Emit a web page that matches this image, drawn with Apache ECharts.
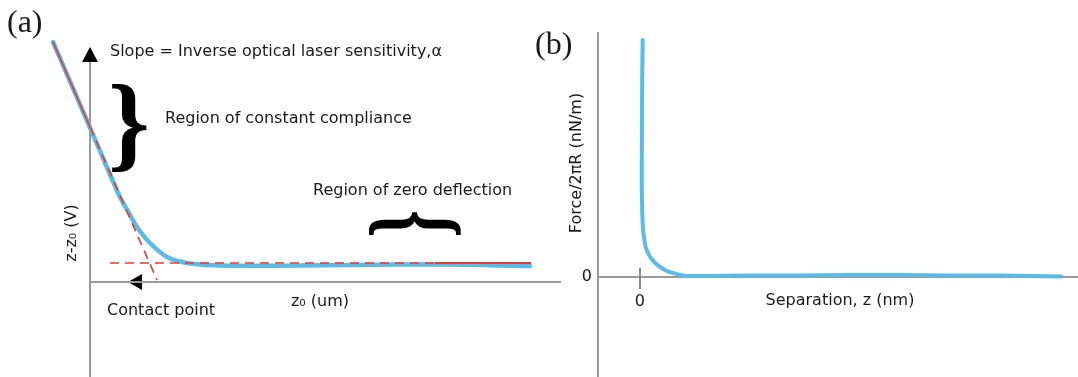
<!DOCTYPE html>
<html>
<head>
<meta charset="utf-8">
<script src="https://cdn.jsdelivr.net/npm/echarts@6/dist/echarts.min.js"></script>
<style>
  html, body { margin: 0; padding: 0; background: #ffffff; }
  #chart { width: 1078px; height: 377px; }
</style>
</head>
<body>
<div id="chart"></div>
<script>
// ---- (a) photodiode deflection against piezo displacement z0 ----
// [z0, z - z0] in arbitrary schematic units
const deflectionCurve = [
  [-0.37, 2.40], [-0.18, 1.96], [0.01, 1.52], [0.16, 1.17], [0.30, 0.85],
  [0.39, 0.69], [0.47, 0.55], [0.60, 0.39], [0.77, 0.25], [0.97, 0.19],
  [1.23, 0.167], [1.60, 0.162], [2.10, 0.165], [2.60, 0.17], [3.10, 0.175],
  [3.60, 0.175], [4.10, 0.165], [4.40, 0.16]
];
// straight-line fit through the constant compliance region
const complianceFit = [[-0.37, 2.40], [0.0, 1.55]];
const complianceFitExtended = [[0.0, 1.55], [0.67, 0.02]];
// baseline fit through the zero deflection region
const baselineFitDashed = [[0.20, 0.19], [3.45, 0.19]];
const baselineFitSolid = [[3.45, 0.19], [4.41, 0.19]];
// horizontal z0 axis, starting where it meets the deflection axis
const z0AxisSpan = [[0, 0], [4.71, 0]];
// arrowheads: top of the deflection axis, and the contact point
const deflectionAxisArrow = [[0, 2.275]];
const contactPoint = [[0.45, 0]];

// ---- (b) normalised force against separation ----
// [z (nm), F/2piR]
const forceCurve = [
  [0.07, 2.37], [0.06, 2.00], [0.055, 1.60], [0.05, 1.20], [0.05, 0.90],
  [0.06, 0.66], [0.075, 0.50], [0.10, 0.40], [0.15, 0.29], [0.25, 0.20],
  [0.37, 0.14], [0.49, 0.10], [0.65, 0.06], [0.80, 0.04], [0.97, 0.02],
  [1.13, 0.01], [1.44, 0.01], [2.64, 0.015], [3.84, 0.015], [5.04, 0.02],
  [6.24, 0.02], [7.43, 0.015], [8.63, 0.015], [9.35, 0.01], [10.10, 0.005]
];
const separationTicks = [0];
const forceTicks = [0];
const zeroTickSpan = [[0, -0.12], [0, 0.09]];

const SANS = 'DejaVu Sans';
const SERIF = 'Liberation Serif';
const INK = '#1a1a1a';
const AXIS = '#9a9a9a';
const BLUE = '#5cbbe6';
const RED = '#e63b2e';

const axisLine = { show: true, lineStyle: { color: AXIS, width: 2 } };

const chart = echarts.init(document.getElementById('chart'), null, { renderer: 'canvas' });

chart.setOption({
  animation: false,
  backgroundColor: '#ffffff',
  grid: [
    { left: 40, top: 55, width: 521, height: 322, containLabel: false, outerBoundsMode: 'none' },
    { left: 598, top: 33, width: 480, height: 344, containLabel: false, outerBoundsMode: 'none' }
  ],
  xAxis: [
    {
      gridIndex: 0, type: 'value', min: -0.5, max: 4.71,
      axisLine: { show: false },
      axisTick: { show: false }, axisLabel: { show: false }, splitLine: { show: false }
    },
    {
      gridIndex: 1, type: 'value', min: -1, max: 10.5, offset: -100,
      axisLine: Object.assign({ onZero: false }, axisLine),
      axisTick: { show: false },
      axisLabel: { customValues: separationTicks, margin: 17, fontFamily: SANS, fontSize: 16, color: INK },
      splitLine: { show: false }
    }
  ],
  yAxis: [
    {
      gridIndex: 0, type: 'value', min: -0.95, max: 2.27,
      axisLine: Object.assign({ onZero: true }, axisLine),
      axisTick: { show: false }, axisLabel: { show: false }, splitLine: { show: false }
    },
    {
      gridIndex: 1, type: 'value', min: -1, max: 2.44,
      axisLine: Object.assign({ onZero: false }, axisLine),
      axisTick: { show: false },
      axisLabel: { customValues: forceTicks, margin: 6, fontFamily: SANS, fontSize: 16, color: INK },
      splitLine: { show: false }
    }
  ],
  series: [
    {
      name: 'deflection', type: 'line', xAxisIndex: 0, yAxisIndex: 0,
      data: deflectionCurve, smooth: 0.3, showSymbol: false, clip: false, silent: true,
      lineStyle: { color: BLUE, width: 4.5, cap: 'round' }, z: 2,
      markLine: {
        silent: true, symbol: 'none', label: { show: false }, animation: false,
        lineStyle: { color: AXIS, width: 2, type: 'solid' },
        data: [[{ coord: z0AxisSpan[0] }, { coord: z0AxisSpan[1] }]]
      }
    },
    {
      name: 'compliance fit', type: 'line', xAxisIndex: 0, yAxisIndex: 0,
      data: complianceFit, showSymbol: false, clip: false, silent: true,
      lineStyle: { color: RED, width: 1.6 }, z: 3
    },
    {
      name: 'compliance fit (extended)', type: 'line', xAxisIndex: 0, yAxisIndex: 0,
      data: complianceFitExtended, showSymbol: false, clip: false, silent: true,
      lineStyle: { color: RED, width: 1.6, type: [9, 6] }, z: 3
    },
    {
      name: 'baseline fit', type: 'line', xAxisIndex: 0, yAxisIndex: 0,
      data: baselineFitDashed, showSymbol: false, clip: false, silent: true,
      lineStyle: { color: RED, width: 1.6, type: [9, 6] }, z: 3
    },
    {
      name: 'baseline fit (end)', type: 'line', xAxisIndex: 0, yAxisIndex: 0,
      data: baselineFitSolid, showSymbol: false, clip: false, silent: true,
      lineStyle: { color: RED, width: 1.8 }, z: 3
    },
    {
      name: 'axis arrow', type: 'scatter', xAxisIndex: 0, yAxisIndex: 0,
      data: deflectionAxisArrow, symbol: 'triangle', symbolSize: [16, 15], clip: false, silent: true,
      itemStyle: { color: '#000000', opacity: 1 }, z: 4
    },
    {
      name: 'contact point', type: 'scatter', xAxisIndex: 0, yAxisIndex: 0,
      data: contactPoint, symbol: 'triangle', symbolSize: [16, 14], symbolRotate: 90, clip: false, silent: true,
      itemStyle: { color: '#000000', opacity: 1 }, z: 4
    },
    {
      name: 'force', type: 'line', xAxisIndex: 1, yAxisIndex: 1,
      data: forceCurve, smooth: 0.25, showSymbol: false, clip: false, silent: true,
      lineStyle: { color: BLUE, width: 4, cap: 'round' }, z: 3,
      markLine: {
        silent: true, symbol: 'none', label: { show: false }, animation: false,
        lineStyle: { color: '#8a8a8a', width: 2, type: 'solid' },
        data: [[{ coord: zeroTickSpan[0] }, { coord: zeroTickSpan[1] }]]
      }
    }
  ],
  graphic: [
    { type: 'text', x: 7, y: 8, silent: true,
      style: { text: '(a)', fontFamily: SERIF, fontSize: 32, fill: INK } },
    { type: 'text', x: 535, y: 30, silent: true,
      style: { text: '(b)', fontFamily: SERIF, fontSize: 32, fill: INK } },
    { type: 'text', x: 110, y: 52, silent: true,
      style: { text: 'Slope = Inverse optical laser sensitivity,\u03b1', fontFamily: SANS, fontSize: 16,
               fill: INK, verticalAlign: 'middle' } },
    { type: 'text', x: 165, y: 119, silent: true,
      style: { text: 'Region of constant compliance', fontFamily: SANS, fontSize: 16,
               fill: INK, verticalAlign: 'middle' } },
    { type: 'text', x: 313, y: 191, silent: true,
      style: { text: 'Region of zero deflection', fontFamily: SANS, fontSize: 16,
               fill: INK, verticalAlign: 'middle' } },
    { type: 'text', x: 107, y: 311, silent: true,
      style: { text: 'Contact point', fontFamily: SANS, fontSize: 16,
               fill: INK, verticalAlign: 'middle' } },
    { type: 'text', x: 320, y: 302, silent: true,
      style: { text: 'z\u2080 (um)', fontFamily: SANS, fontSize: 16, fill: INK,
               align: 'center', verticalAlign: 'middle' } },
    { type: 'text', x: 840, y: 301, silent: true,
      style: { text: 'Separation, z (nm)', fontFamily: SANS, fontSize: 16, fill: INK,
               align: 'center', verticalAlign: 'middle' } },
    { type: 'text', x: 72, y: 233, rotation: Math.PI / 2, silent: true,
      style: { text: 'z-z\u2080 (V)', fontFamily: SANS, fontSize: 16, fill: INK,
               align: 'center', verticalAlign: 'middle' } },
    { type: 'text', x: 577, y: 163, rotation: Math.PI / 2, silent: true,
      style: { text: 'Force/2\u03c0R (nN/m)', fontFamily: SANS, fontSize: 16, fill: INK,
               align: 'center', verticalAlign: 'middle' } },
    // curly braces marking the two regions
    { type: 'text', x: 129, y: 131, silent: true,
      style: { text: '}', fontFamily: SERIF, fontSize: 106, fontWeight: 'bold', fill: '#000000',
               align: 'center', verticalAlign: 'middle' } },
    { type: 'text', x: 418, y: 224, rotation: Math.PI / 2, scaleX: 0.64, silent: true,
      style: { text: '}', fontFamily: SERIF, fontSize: 110, fontWeight: 'bold', fill: '#000000',
               align: 'center', verticalAlign: 'middle' } }
  ]
});
</script>
</body>
</html>
